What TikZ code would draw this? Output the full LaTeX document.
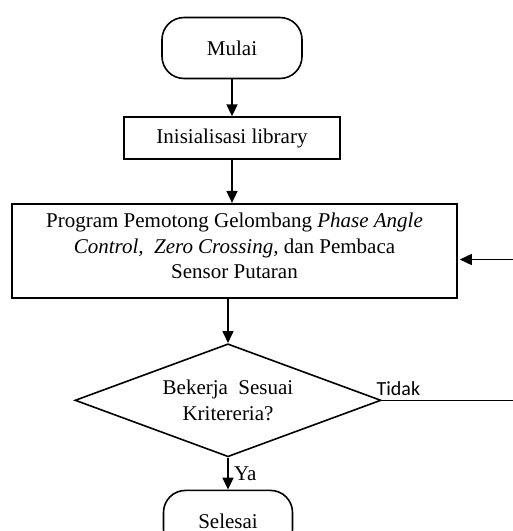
\documentclass[tikz,border=0pt]{standalone}
\usepackage{fontspec}
\setmainfont{Liberation Serif}
\newfontfamily\labelfont{Carlito}
\usepackage{tikz}
\usetikzlibrary{arrows.meta}
\usetikzlibrary{positioning}
\usetikzlibrary{shapes.geometric}

\begin{document}
\begin{tikzpicture}
  [x=1pt, y=1pt, line width=1.6pt,
  >={Triangle[length=12pt, width=11pt]},
  every node/.style={font=\fontsize{21}{25.5}\selectfont},
  terminal/.style={draw, rounded corners=22pt, minimum height=61pt},
  process/.style={draw, inner sep=0pt, align=center},
  decision/.style={draw, diamond, aspect=2.708, minimum width=306pt,
    minimum height=113pt, inner sep=0pt, align=center}]
\useasboundingbox (0,0) rectangle (513,-531);
\node [terminal, minimum width=140pt] (mulai) at (232,-48) {Mulai};
\node [process, minimum width=216pt, minimum height=42pt,
  below=37pt of mulai] (init) {Inisialisasi library};
\node [process, minimum width=445pt, minimum height=94.5pt, text depth=10pt,
  below=43pt of init, xshift=2.5pt] (prog)
  {Program Pemotong Gelombang \textit{Phase Angle}\\
   \textit{Control,}\ \ \textit{Zero Crossing,} dan Pembaca\\
   Sensor Putaran};
\node [decision, below=44pt of prog, xshift=-6.5pt] (cek)
  {Bekerja\ \ Sesuai\\Kritereria?};
\node [terminal, minimum width=129pt, below=32pt of cek] (selesai) {Selesai};
% loose ends of the loop back, at the right edge
\coordinate (tepi) at (513,0);
\coordinate (kembali) at (513,-259.5);

\draw [->] (mulai) -- (init);
\draw [->] (init) -- (init |- prog.north);
\draw [->] (cek |- prog.south) -- (cek);
\draw [->] (cek) -- node [right, xshift=2pt] {Ya} (selesai);
\draw (cek.east) -- node [pos=0, anchor=south west, xshift=-7pt, yshift=3pt,
  inner sep=1pt, font=\labelfont\fontsize{20}{24}\selectfont] {Tidak}
  (cek.east -| tepi);
\draw [->, shorten >=2pt] (kembali) -- (kembali -| prog.east);
\end{tikzpicture}
\end{document}
